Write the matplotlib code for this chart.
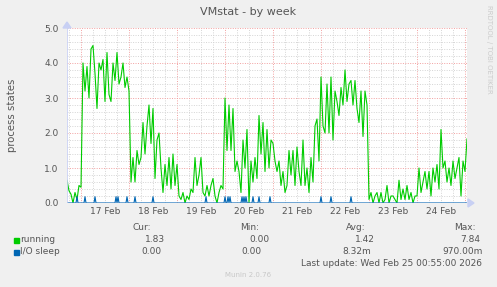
import numpy as np
import matplotlib.pyplot as plt
from matplotlib.patches import Rectangle

# hourly samples, hours relative to 17 Feb 00:00 (first sample 16 Feb 17:00)
hours = np.arange(-7, 194)
running = [
    0.65, 0.35, 0.25, 0.0, 0.3, 0.1, 0.5, 0.45,
    4.0, 3.2, 3.9, 3.0, 4.4, 4.5, 3.7, 2.7, 4.0, 3.8, 4.1, 2.9,
    4.3, 3.1, 2.9, 4.0, 3.5, 4.3, 3.4, 3.6, 4.0, 3.3, 3.6, 3.2,
    0.6, 1.3, 0.6, 1.5, 1.1, 1.3, 2.3, 1.4, 2.2, 2.8, 1.7, 2.7,
    0.7, 1.8, 2.0, 1.0, 0.3, 1.1, 0.5, 1.3, 0.4, 1.4, 0.5, 1.1,
    0.2, 0.1, 0.3, 0.0, 0.2, 0.1, 0.4, 0.3, 1.3, 0.5, 0.8, 1.3,
    0.3, 0.2, 0.5, 0.2, 0.5, 0.7, 0.2, 0.0, 0.3, 0.5, 0.4, 3.0,
    1.5, 2.8, 1.5, 2.7, 0.9, 1.2, 0.9, 0.3, 1.8, 1.0, 2.1, 0.0,
    1.2, 0.6, 1.3, 0.7, 2.5, 1.4, 2.3, 0.9, 2.1, 1.0, 1.8, 1.7,
    1.2, 0.9, 1.2, 0.5, 0.9, 0.3, 0.5, 1.5, 0.8, 1.5, 0.5, 1.6,
    0.9, 0.5, 1.8, 0.5, 1.0, 0.3, 1.3, 0.6, 2.2, 2.4, 1.2, 3.6,
    2.2, 2.0, 3.4, 2.0, 3.6, 1.8, 3.2, 2.9, 2.5, 3.3, 2.8, 3.8,
    2.9, 3.4, 3.5, 2.8, 3.5, 2.7, 2.3, 3.2, 1.9, 3.2, 2.8, 0.1,
    0.3, 0.0, 0.2, 0.3, 0.0, 0.3, 0.0, 0.1, 0.5, 0.0, 0.2, 0.2,
    0.1, 0.0, 0.65, 0.1, 0.4, 0.1, 0.5, 0.1, 0.3, 0.0, 0.2, 0.2,
    1.0, 0.3, 0.6, 0.9, 0.4, 0.9, 0.2, 1.0, 0.6, 1.1, 0.4, 2.1,
    1.0, 1.2, 0.6, 1.0, 0.5, 1.2, 0.7, 1.0, 1.3, 0.2, 1.2, 0.9, 1.83,
]

# I/O sleep is zero except short blips (half-hour samples)
io_hours = np.arange(-7, 193.01, 0.5)
io_blip_hours = [-2.0, 2.0, 7.0, 17.5, 18.5, 23.0, 27.0, 36.0, 62.5, 72.0, 73.5,
                 74.5, 80.5, 81.5, 82.5, 86.0, 89.0, 94.5, 120.0, 125.0, 135.0]
io_blip_value = 0.18

day_labels = ['17 Feb', '18 Feb', '19 Feb', '20 Feb', '21 Feb', '22 Feb', '23 Feb', '24 Feb']
y_ticks = [0.0, 1.0, 2.0, 3.0, 4.0, 5.0]

legend_names = ['running', 'I/O sleep']
legend_colors = ['#00CC00', '#0066B3']
cur_vals = ['1.83', '0.00']
min_vals = ['0.00', '0.00']
avg_vals = ['1.42', '8.32m']
max_vals = ['7.84', '970.00m']

iosleep = np.zeros(len(io_hours))
for h in io_blip_hours:
    iosleep[np.argmin(np.abs(io_hours - h))] = io_blip_value

W, H = 497, 287
TXT = '#555555'

def fx(x):
    return x / W

def fy(y):
    return 1 - y / H

fig = plt.figure(figsize=(W / 100, H / 100), dpi=100, facecolor='#F0F0F0')
ax = fig.add_axes([fx(67), fy(203), 400 / W, 175 / H])
ax.set_facecolor('white')
x0, x1 = -7.0, 193.0
ax.set_xlim(x0, x1)
ax.set_ylim(0, 5.0)

# grid: grey every 6h / 0.2, red every day / 1.0
dot = (0, (1, 1.5))
for h in np.arange(-6, 193, 6):
    if h % 24 != 0:
        ax.axvline(h, color='#D4D4D4', lw=0.7, ls=dot, zorder=0)
for h in np.arange(0, 193, 24):
    ax.axvline(h, color='#F2A0A0', lw=0.7, ls=dot, zorder=0)
for v in np.arange(0.2, 5.01, 0.2):
    if abs(v - round(v)) > 1e-6:
        ax.axhline(v, color='#D4D4D4', lw=0.7, ls=dot, zorder=0)
for v in y_ticks[1:]:
    ax.axhline(v, color='#F2A0A0', lw=0.7, ls=dot, zorder=0)

ax.plot(hours, running, color=legend_colors[0], lw=0.8, zorder=3)
ax.plot(io_hours, iosleep, color=legend_colors[1], lw=0.8, zorder=4)

for s in ax.spines.values():
    s.set_visible(False)
ax.axvline(x0, color='#C8D0F4', lw=1.2, zorder=5)
ax.axhline(0, color='#7F9AD8', lw=0.9, zorder=5)

ax.set_xticks(12 + 24 * np.arange(len(day_labels)))
ax.set_xticklabels(day_labels)
ax.set_yticks(y_ticks)
ax.set_yticklabels(['%.1f' % v for v in y_ticks])
ax.tick_params(length=0, labelsize=6.5, colors=TXT, pad=3)
ax.tick_params(axis='y', pad=6)

# axis arrows
fig.patches.append(plt.Polygon([[fx(468), fy(199)], [fx(468), fy(207)], [fx(474), fy(203)]],
                               closed=True, transform=fig.transFigure, color='#C8D0F4'))
fig.patches.append(plt.Polygon([[fx(63), fy(28)], [fx(71), fy(28)], [fx(67), fy(22)]],
                               closed=True, transform=fig.transFigure, color='#C8D0F4'))

fig.text(fx(248), fy(12), 'VMstat - by week', ha='center', va='center', fontsize=8, color=TXT)
fig.text(fx(12), fy(115), 'process states', rotation=90, ha='center', va='center',
         fontsize=7.3, color=TXT)
fig.text(fx(489), fy(5), 'RRDTOOL / TOBI OETIKER', rotation=-90, ha='center', va='top',
         fontsize=5.0, color='#CCCCCC')

# legend block
fs = 6.5
for label, xr in [('Cur:', 151), ('Min:', 259), ('Avg:', 366), ('Max:', 476)]:
    fig.text(fx(xr), fy(227), label, ha='right', va='center', fontsize=fs, color=TXT)

rows_y = [239.5, 251.5]
cols = [(cur_vals, [165, 161]), (min_vals, [270, 261]), (avg_vals, [375, 371]), (max_vals, [480, 483])]
for i, name in enumerate(legend_names):
    y = rows_y[i]
    fig.patches.append(Rectangle((fx(14), fy(y + 3)), 5 / W, 5 / H, transform=fig.transFigure,
                                 color=legend_colors[i]))
    fig.text(fx(20), fy(y), name, ha='left', va='center', fontsize=fs, color=TXT)
    for vals, xs in cols:
        fig.text(fx(xs[i]), fy(y), vals[i], ha='right', va='center', fontsize=fs, color=TXT)

fig.text(fx(482), fy(263.5), 'Last update: Wed Feb 25 00:55:00 2026', ha='right', va='center',
         fontsize=fs, color=TXT)
fig.text(fx(248), fy(275), 'Munin 2.0.76', ha='center', va='center', fontsize=5.0, color='#C8C8C8')

fig.savefig('out.png', dpi=100, facecolor=fig.get_facecolor())
